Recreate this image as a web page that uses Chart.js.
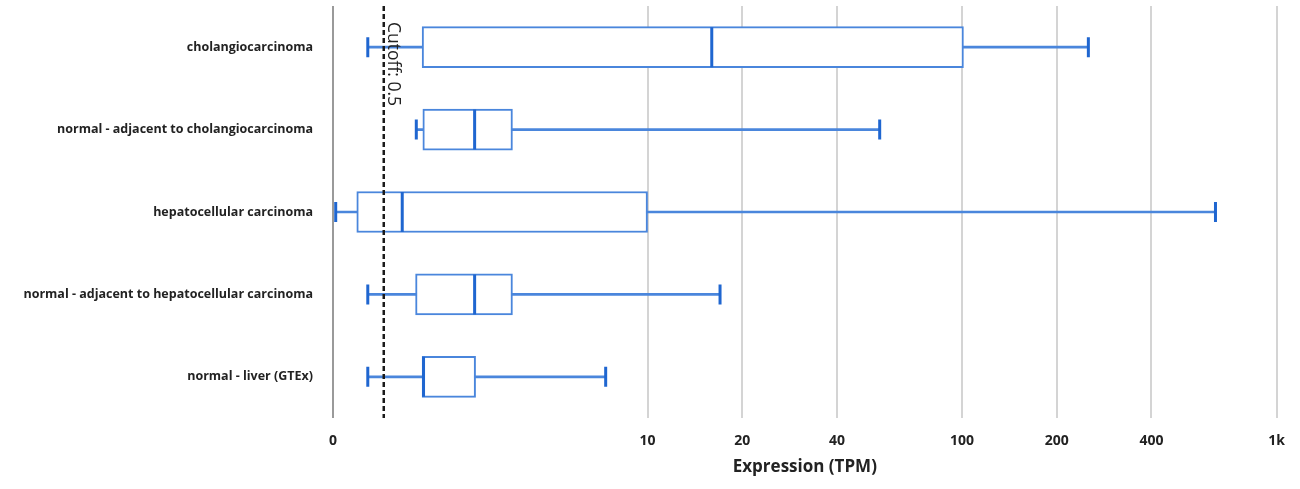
<!DOCTYPE html>
<html><head><meta charset="utf-8">
<script src="https://cdn.jsdelivr.net/npm/chart.js@4/dist/chart.umd.min.js"></script>
<style>html,body{margin:0;padding:0;background:#fff}#wrap{width:1300px;height:489px;position:relative}</style>
</head><body><div id="wrap"><canvas id="c" width="1300" height="489"></canvas></div>
<script>
// Values are in axis units (the axis point labelled "0" is 1 on the log scale)
const categories = [
  'cholangiocarcinoma',
  'normal - adjacent to cholangiocarcinoma',
  'hepatocellular carcinoma',
  'normal - adjacent to hepatocellular carcinoma',
  'normal - liver (GTEx)'
];
const whiskerLow  = [1.29, 1.84, 1.02, 1.29, 1.29];
const q1          = [1.92, 1.93, 1.19, 1.83, 1.92];
const median      = [16.0, 2.82, 1.66, 2.82, 1.94];
const q3          = [101,  3.72, 10.0, 3.72, 2.84];
const whiskerHigh = [252,  54.7, 639,  17.0, 7.36];
const tickValues  = [1, 10, 20, 40, 100, 200, 400, 1000];
const tickLabels  = ['0', '10', '20', '40', '100', '200', '400', '1k'];
const cutoffValue = 1.45;
const cutoffLabel = 'Cutoff: 0.5';
const axisTitle   = 'Expression (TPM)';

const BOX = '#4a86dc', DARK = '#1f66d0';
const FONT = '"Open Sans", "Noto Sans", sans-serif';

const cutoffPlugin = {
  id: 'cutoff',
  afterDatasetsDraw(chart) {
    const {ctx, chartArea, scales: {x}} = chart;
    const px = x.getPixelForValue(cutoffValue);
    ctx.save();
    ctx.strokeStyle = '#1a1a1a';
    ctx.lineWidth = 2.5;
    ctx.setLineDash([5, 3]);
    ctx.beginPath();
    ctx.moveTo(px, chartArea.top);
    ctx.lineTo(px, chartArea.bottom);
    ctx.stroke();
    ctx.setLineDash([]);
    ctx.translate(px + 4, chartArea.top + 16);
    ctx.rotate(Math.PI / 2);
    ctx.font = '17.5px ' + FONT;
    ctx.fillStyle = '#222';
    ctx.textAlign = 'left';
    ctx.textBaseline = 'alphabetic';
    ctx.fillText(cutoffLabel, 0, 0);
    ctx.restore();
  }
};

const pts = arr => arr.map((v, i) => ({x: v, y: categories[i]}));

new Chart(document.getElementById('c'), {
  type: 'bar',
  data: {
    labels: categories,
    datasets: [
      {
        type: 'bar', label: 'whisker',
        data: categories.map((c, i) => [whiskerLow[i], whiskerHigh[i]]),
        backgroundColor: BOX, borderWidth: 0,
        barThickness: 2, grouped: false, order: 3
      },
      {
        type: 'bar', label: 'box',
        data: categories.map((c, i) => [q1[i], q3[i]]),
        backgroundColor: '#ffffff', borderColor: BOX, borderWidth: 2,
        borderSkipped: false, barThickness: 41, grouped: false, order: 2
      },
      {
        type: 'scatter', label: 'caps',
        data: pts(whiskerLow).concat(pts(whiskerHigh)),
        pointStyle: 'line', rotation: 90, radius: 10, borderWidth: 3,
        borderColor: DARK, backgroundColor: DARK, order: 1
      },
      {
        type: 'scatter', label: 'median',
        data: pts(median),
        pointStyle: 'line', rotation: 90, radius: 20, borderWidth: 3,
        borderColor: DARK, backgroundColor: DARK, order: 0
      }
    ]
  },
  options: {
    indexAxis: 'y',
    responsive: false,
    animation: false,
    events: [],
    layout: {autoPadding: false, padding: {top: 6, right: 20, bottom: 0, left: 0}},
    plugins: {legend: {display: false}, tooltip: {enabled: false}},
    scales: {
      x: {
        type: 'logarithmic',
        min: 1, max: 1000,
        afterBuildTicks: s => { s.ticks = tickValues.map(v => ({value: v})); },
        afterFit: s => { s.height = 71; },
        ticks: {
          callback: (v) => { const i = tickValues.indexOf(v); return i >= 0 ? tickLabels[i] : ''; },
          font: {family: FONT, size: 14, weight: 'bold'},
          color: '#222', padding: 15, maxRotation: 0, autoSkip: false
        },
        grid: {
          drawTicks: false,
          color: ctx => ctx.tick && ctx.tick.value === 1 ? '#9a9a9a' : '#d4d4d4',
          lineWidth: 2
        },
        border: {display: false},
        title: {
          display: true, text: axisTitle,
          font: {family: FONT, size: 17, weight: 'bold'},
          color: '#222', padding: {top: 0, bottom: 12}
        }
      },
      y: {
        type: 'category',
        afterFit: s => { s.width = 333; s.paddingTop = 0; s.paddingBottom = 0; },
        ticks: {
          font: {family: FONT, size: 12.5, weight: 'bold'},
          color: '#222', padding: 20
        },
        grid: {display: false, drawTicks: false},
        border: {display: false}
      }
    }
  },
  plugins: [cutoffPlugin]
});
</script></body></html>
